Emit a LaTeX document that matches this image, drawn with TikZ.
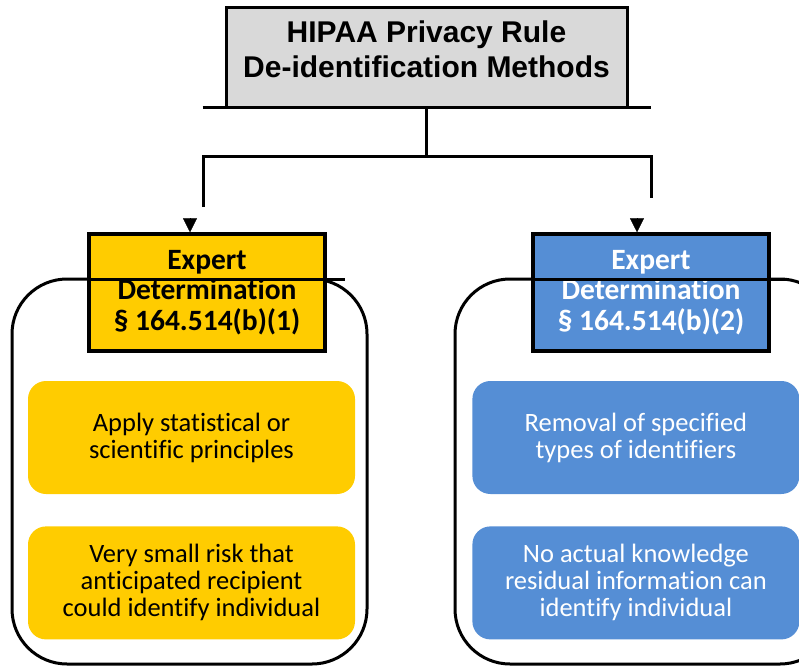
\documentclass[tikz,border=0pt]{standalone}
\usepackage{fontspec}
\setmainfont{Carlito}[Ligatures=NoCommon]
\newfontfamily\arialfont{Liberation Sans}
\usetikzlibrary{arrows.meta,positioning}
\definecolor{rulegray}{HTML}{D9D9D9}
\definecolor{expertgold}{HTML}{FFCC00}
\definecolor{harborblue}{HTML}{558ED5}

\begin{document}
\begin{tikzpicture}[
  x=1pt, y=-1pt,
  node distance=32pt and 117pt,
  titlebox/.style={draw, fill=rulegray, line width=3pt, outer sep=0pt, inner sep=0pt, minimum width=401pt, minimum height=99pt, font=\arialfont\bfseries\fontsize{30}{35}\selectfont},
  headbox/.style={draw, line width=3.5pt, inner sep=0pt, minimum width=236pt, minimum height=117pt, align=center, font=\bfseries\fontsize{29.5}{30.5}\selectfont},
  panel/.style={draw, line width=3pt, outer sep=0pt, rounded corners=55pt, minimum width=355pt, minimum height=385pt},
  card/.style={rounded corners=18pt, inner sep=0pt, minimum width=327pt, minimum height=113pt, align=center, font=\fontsize{26.5}{27}\selectfont},
  link/.style={line width=3pt},
  tip/.style={-{Triangle[width=14pt,length=14pt]}, line width=0.4pt}
]
\useasboundingbox (0,0) rectangle (799,666);

% Panels
\node[panel] (lpanel) at (189.5,471.5) {};
\node[panel, minimum width=380pt] (rpanel) at (645,471.5) {};

% Cards
\node[card, fill=expertgold] (stat) at (191.5,437.5) {Apply statistical or\\scientific principles};
\node[card, fill=expertgold, below=of stat] (risk) {Very small risk that\\anticipated recipient\\could identify individual};
\node[card, fill=harborblue, text=white, right=of stat] (remove) {Removal of specified\\types of identifiers};
\node[card, fill=harborblue, text=white, below=of remove] (know) {No actual knowledge\\residual information can\\identify individual};

% Title and method boxes
\node[titlebox] (title) at (426.5,57.5) {\begin{tabular}{@{}c@{}}HIPAA Privacy Rule\\De-identification Methods\\[9pt]\end{tabular}};
\node[headbox, fill=expertgold] (expert) at (207,292.5) {Expert\\Determination\\§ 164.514(b)(1)};
\node[headbox, fill=harborblue, text=white] (safe) at (651,292.5) {Expert\\Determination\\§ 164.514(b)(2)};

% Tree connectors
\coordinate (fork) at (426.5,156);
\coordinate (lknee) at (203,156);
\coordinate (rknee) at (651,156);
\coordinate (lend) at (203,207);
\coordinate (rend) at (651,198);
\coordinate (ltip) at (190,218);
\coordinate (rtip) at (637,218);
\draw[link] ([xshift=-23.5pt]title.south west) -- ([xshift=23.5pt]title.south east);
\draw[link] (title.south) -- (fork);
\draw[link] (lend) -- (lknee) -- (rknee) -- (rend);
\draw[tip] (ltip) -- (ltip |- expert.north);
\draw[tip] (rtip) -- (rtip |- safe.north);

% Panel tops across the boxes
\draw[link] (expert.west |- lpanel.north) -- ++(258,0);
\draw[link] (safe.west |- rpanel.north) -- ++(258,0);

\end{tikzpicture}
\end{document}
